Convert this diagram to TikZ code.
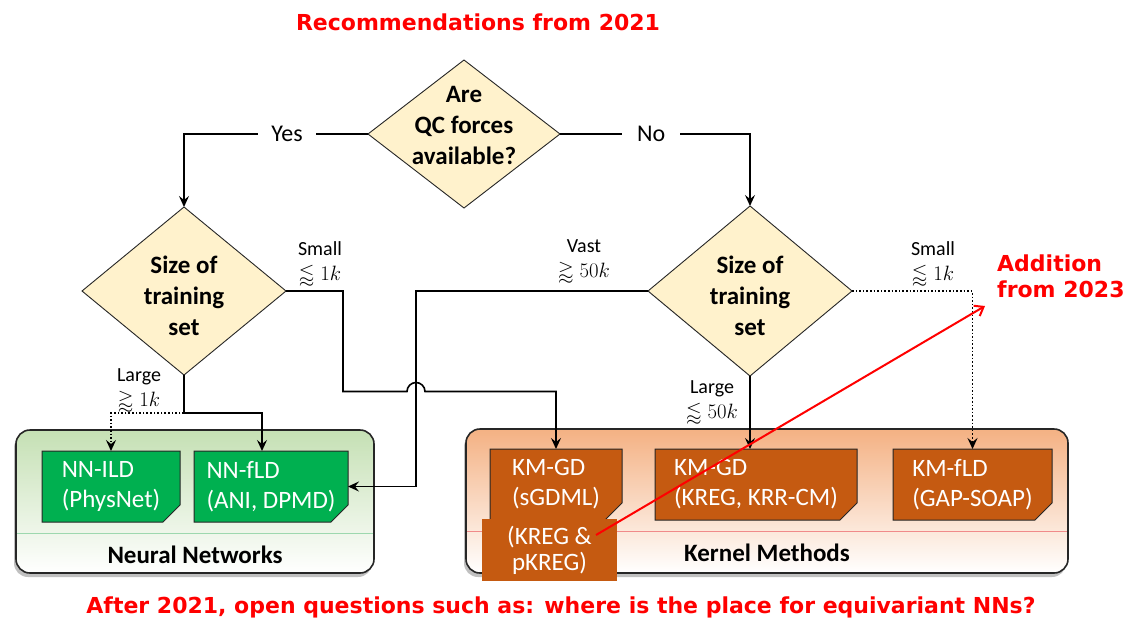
\documentclass[tikz,border=0pt]{standalone}
\usepackage{amsmath,amssymb}
\usepackage{fontspec}
\setmainfont{Carlito}
\newfontfamily\verd{DejaVu Sans}
\usetikzlibrary{shapes.geometric,arrows.meta,shadows,calc}
\definecolor{dfill}{HTML}{FFF2CC}
\definecolor{nngreen}{HTML}{00B050}
\definecolor{kmorange}{HTML}{C55A11}
\definecolor{gtop}{HTML}{C5E0B4}
\definecolor{otop}{HTML}{F4B183}
\definecolor{gsep}{HTML}{9DD8AE}
\definecolor{osep}{HTML}{F08A8A}
\definecolor{rred}{HTML}{FF0000}
\definecolor{edge}{HTML}{262626}
\pgfdeclarelayer{back}
\pgfdeclarelayer{mid}
\pgfsetlayers{back,mid,main}
\newcommand\cutshape[3]{%
\begin{pgfonlayer}{mid}
\draw[draw=edge, line width=1pt, fill=#2] (#1.north west) -- (#1.north east) -- ([yshift=#3]#1.south east) -- ([xshift=-#3]#1.south east) -- (#1.south west) -- cycle;
\end{pgfonlayer}}
\begin{document}
\begin{tikzpicture}[x=1pt,y=-1pt,
  conn/.style={line width=1.6pt, draw=black, -{Stealth[length=11pt,width=10pt,inset=4pt]}},
  plainline/.style={line width=1.6pt, draw=black},
  decision/.style={diamond, draw=edge, line width=0.9pt, fill=dfill, inner sep=0pt, outer sep=0pt},
  dtext/.style={align=center, inner sep=0pt, font=\fontsize{25pt}{31pt}\selectfont\bfseries},
  gaplbl/.style={fill=white, inner ysep=2pt, font=\fontsize{24pt}{28pt}\selectfont},
  smalllbl/.style={align=center, inner sep=0pt, font=\fontsize{20pt}{25pt}\selectfont},
  bx/.style={rectangle, inner sep=0pt, outer sep=0pt, align=left, text=white, font=\fontsize{25pt}{30pt}\selectfont},
  cont/.style={rectangle, rounded corners=14pt, draw=edge, line width=1.6pt, outer sep=0pt,
     drop shadow={shadow xshift=-2pt, shadow yshift=-4pt, opacity=0.35, fill=black!70}},
  conttitle/.style={font=\fontsize{25pt}{30pt}\selectfont\bfseries, inner sep=0pt},
  redtxt/.style={text=rred, font=\fontsize{22pt}{26pt}\selectfont\verd\bfseries, inner sep=0pt},
  redarrow/.style={draw=rred, line width=2pt, -{Straight Barb[length=8pt,width=12pt,line width=2pt]}}
]
\begin{pgfonlayer}{back}
\fill[white] (0,0) rectangle (1126,622);
\end{pgfonlayer}
\useasboundingbox (0,0) rectangle (1126,622);

% title
\node[redtxt] (ttl) at (478,22) {Recommendations from 2021};

% containers
\begin{pgfonlayer}{back}
\node[cont, top color=gtop, bottom color=white, minimum width=358pt, minimum height=143pt] (nnc) at (195,501.5) {};
\node[cont, top color=otop, bottom color=white, minimum width=602pt, minimum height=144pt] (kmc) at (767,501) {};
\draw[gsep, line width=1pt] (17,533) -- (373,533);
\draw[osep, line width=1pt] (467,531) -- (1067,531);
\end{pgfonlayer}
\node[conttitle] (nnt) at (195,555) {Neural Networks};
\node[conttitle] (kmt) at (767,553) {Kernel Methods};

% diamonds
\node[decision, minimum width=192pt, minimum height=148pt] (q) at (464,134) {};
\node[dtext] (qt) at (464,125) {Are\\QC forces\\available?};
\node[decision, minimum width=204pt, minimum height=168pt] (ls) at (184,291) {};
\node[dtext] (lst) at (184,296) {Size of\\training\\set};
\node[decision, minimum width=204pt, minimum height=170pt] (rs) at (750,291) {};
\node[dtext] (rst) at (750,296) {Size of\\training\\set};

% boxes
\node[bx, minimum width=138pt, minimum height=71pt] (nnl) at (111,486.5) {NN-ILD\\(PhysNet)};
\cutshape{nnl}{nngreen}{17pt}
\node[bx, minimum width=154pt, minimum height=71pt] (nnf) at (271,486.5) {NN-fLD\\(ANI, DPMD)};
\cutshape{nnf}{nngreen}{17pt}
\node[bx, minimum width=132pt, minimum height=71pt] (km1) at (556,484.5) {KM-GD\\(sGDML)};
\cutshape{km1}{kmorange}{17pt}
\node[bx, align=center, minimum width=135pt, minimum height=62pt, font=\fontsize{25pt}{26pt}\selectfont] (kreg) at (549.5,550) {(KREG \&\\pKREG)};
\begin{pgfonlayer}{mid}
\fill[kmorange] (kreg.north west) rectangle (kreg.south east);
\end{pgfonlayer}
\node[bx, minimum width=202pt, minimum height=71pt] (km2) at (756,484.5) {KM-GD\\(KREG, KRR-CM)};
\cutshape{km2}{kmorange}{17pt}
\node[bx, minimum width=159pt, minimum height=71pt] (km3) at (972.5,484.5) {KM-fLD\\(GAP-SOAP)};
\cutshape{km3}{kmorange}{17pt}

% connectors
\draw[conn] (q.west) -| node[gaplbl, pos=0.22, inner xsep=13pt] (yes) {Yes} (ls.north);
\draw[conn] (q.east) -| node[gaplbl, pos=0.24, inner xsep=15pt] (no) {No} (rs.north);

\coordinate (jmpA) at (407,291.5);
\draw[conn] (ls.east) -- ++(57,0) |- ([yshift=-100pt]jmpA) arc[start angle=180, end angle=0, radius=9pt] -| (km1.north);
\draw[conn] (rs.west) -- ++(-232,0) |- (nnf.east);
\draw[conn, dotted] (rs.east) -| (km3.north);
\draw[conn] (rs.south) -- (rs.south |- km2.north);

\coordinate (lsb) at (184,413);
\draw[plainline] (ls.south) -- (lsb);
\draw[conn] (lsb) -| ([xshift=-9pt]nnf.north);
\draw[conn, dotted] (lsb) -| (nnl.north);

% branch labels
\node[smalllbl] (lblS1) at (320,264) {Small\\$\lessapprox 1k$};
\node[smalllbl] (lblV) at (584,261) {Vast\\$\gtrapprox 50k$};
\node[smalllbl] (lblS2) at (933,264) {Small\\$\lessapprox 1k$};
\node[smalllbl] (lblL2) at (712,402) {Large\\$\lessapprox 50k$};
\node[smalllbl] (lblL1) at (139,390) {Large\\$\gtrapprox 1k$};

% red addition
\node[redtxt, align=left, anchor=west] (add) at (997,276) {Addition\\from 2023};
\coordinate (redS) at (596,535);
\coordinate (redE) at (985,306);
\draw[redarrow] (redS) -- (redE);

% bottom question
\node[redtxt] (bq) at (561,607) {After 2021, open questions such as: where is the place for equivariant NNs?};
\end{tikzpicture}
\end{document}
